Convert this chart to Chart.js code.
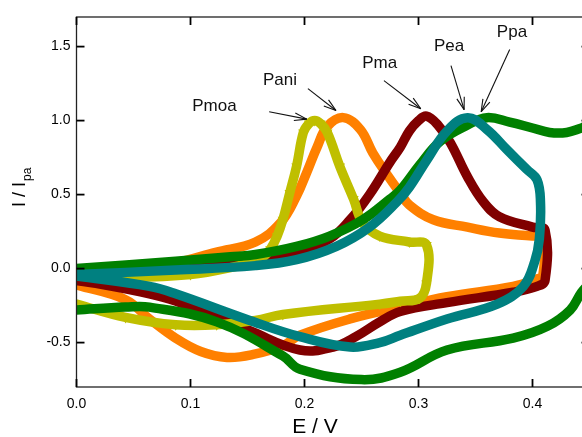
<!DOCTYPE html>
<html>
<head>
<meta charset="utf-8">
<script src="https://cdn.jsdelivr.net/npm/chart.js@4.4.1/dist/chart.umd.min.js"></script>
<style>
  html, body { margin: 0; padding: 0; background: #fff; overflow: hidden; }
  #wrap { width: 582px; height: 437px; overflow: hidden; }
</style>
</head>
<body>
<div id="wrap"><canvas id="cv" width="600" height="437"></canvas></div>
<script>
// axis ticks
const xTicks = [0.0, 0.1, 0.2, 0.3, 0.4];
const yTicks = [-0.5, 0.0, 0.5, 1.0, 1.5];

// Pmoa (forward scan, then back)
const pmoaE = [0, 0.035, 0.1, 0.15, 0.157, 0.164, 0.17, 0.176, 0.181, 0.187, 0.193, 0.199, 0.204, 0.209, 0.214, 0.22, 0.231, 0.243, 0.251, 0.266, 0.292, 0.307, 0.307, 0.301, 0.284, 0.266, 0.181, 0.157, 0.123, 0.087, 0.043, 0];
const pmoaI = [-0.05, -0.06, -0.04, 0.03, 0.04, 0.08, 0.13, 0.22, 0.33, 0.51, 0.69, 0.92, 0.98, 1.0, 0.98, 0.92, 0.69, 0.47, 0.31, 0.22, 0.18, 0.16, -0.1, -0.2, -0.22, -0.24, -0.31, -0.35, -0.38, -0.38, -0.33, -0.24];

// Pani
const paniE = [0, 0.043, 0.087, 0.122, 0.157, 0.179, 0.193, 0.202, 0.211, 0.22, 0.234, 0.249, 0.26, 0.272, 0.284, 0.292, 0.313, 0.343, 0.371, 0.4, 0.409, 0.409, 0.404, 0.383, 0.325, 0.284, 0.24, 0.196, 0.181, 0.155, 0.132, 0.109, 0.087, 0.064, 0.043, 0];
const paniI = [-0.06, -0.01, 0.04, 0.11, 0.18, 0.31, 0.49, 0.65, 0.82, 0.96, 1.02, 0.94, 0.78, 0.64, 0.51, 0.43, 0.33, 0.28, 0.24, 0.22, 0.21, -0.05, -0.07, -0.12, -0.19, -0.26, -0.34, -0.45, -0.52, -0.58, -0.6, -0.56, -0.47, -0.34, -0.21, -0.11];

// Pma
const pmaE = [0, 0.087, 0.164, 0.193, 0.222, 0.24, 0.257, 0.275, 0.284, 0.292, 0.3, 0.307, 0.317, 0.328, 0.343, 0.357, 0.371, 0.4, 0.411, 0.411, 0.404, 0.383, 0.325, 0.284, 0.266, 0.245, 0.225, 0.196, 0.152, 0.087, 0.064, 0.017, 0];
const pmaI = [-0.06, 0.0, 0.06, 0.11, 0.2, 0.33, 0.5, 0.72, 0.82, 0.93, 1.0, 1.03, 0.97, 0.85, 0.62, 0.45, 0.35, 0.28, 0.26, -0.08, -0.12, -0.16, -0.23, -0.29, -0.36, -0.46, -0.53, -0.55, -0.42, -0.22, -0.17, -0.1, -0.08];

// Pea
const peaE = [0, 0.087, 0.157, 0.193, 0.228, 0.257, 0.281, 0.292, 0.307, 0.325, 0.343, 0.36, 0.378, 0.395, 0.404, 0.407, 0.406, 0.402, 0.392, 0.369, 0.325, 0.284, 0.266, 0.24, 0.196, 0.152, 0.087, 0.064, 0];
const peaI = [-0.04, -0.01, 0.02, 0.06, 0.15, 0.28, 0.45, 0.55, 0.73, 0.93, 1.02, 0.94, 0.8, 0.67, 0.6, 0.45, 0.2, 0.05, -0.12, -0.24, -0.34, -0.45, -0.5, -0.53, -0.46, -0.35, -0.17, -0.12, -0.05];

// Ppa
const ppaE = [0, 0.087, 0.135, 0.157, 0.193, 0.222, 0.251, 0.275, 0.284, 0.301, 0.319, 0.343, 0.36, 0.38, 0.4, 0.415, 0.43, 0.443, 0.455, 0.462, 0.462, 0.455, 0.443, 0.433, 0.413, 0.383, 0.325, 0.284, 0.25, 0.196, 0.181, 0.123, 0.064, 0.043, 0];
const ppaI = [0.0, 0.05, 0.08, 0.095, 0.15, 0.22, 0.33, 0.47, 0.53, 0.7, 0.86, 0.97, 1.02, 0.99, 0.95, 0.92, 0.92, 0.95, 0.98, 0.9, 0.1, -0.05, -0.16, -0.28, -0.39, -0.47, -0.55, -0.7, -0.75, -0.68, -0.59, -0.36, -0.26, -0.26, -0.28];

// peak labels with arrows (data units)
const peakNames = ['Pmoa', 'Pani', 'Pma', 'Pea', 'Ppa'];
const peakTextE = [0.121, 0.1785, 0.266, 0.3268, 0.382];
const peakTextI = [1.095, 1.27, 1.39, 1.5, 1.595];
const arrowFromE = [0.169, 0.203, 0.2697, 0.3285, 0.380];
const arrowFromI = [1.06, 1.216, 1.27, 1.372, 1.48];
const arrowToE = [0.202, 0.2276, 0.302, 0.340, 0.355];
const arrowToI = [1.01, 1.068, 1.08, 1.074, 1.06];

const FONT = '"Liberation Sans", Arial, Helvetica, sans-serif';

function toPoints(es, is) {
    return es.map((e, i) => ({ x: e, y: is[i] }));
}

function curve(data, color, extra) {
    return Object.assign({
        data: data,
        showLine: true,
        borderColor: color,
        backgroundColor: color,
        borderWidth: 9.5,
        borderJoinStyle: 'round',
        borderCapStyle: 'round',
        pointRadius: 0,
        tension: 0.4,
        fill: false
    }, extra || {});
}

function line(ctx, x1, y1, x2, y2) {
    ctx.beginPath();
    ctx.moveTo(x1, y1);
    ctx.lineTo(x2, y2);
    ctx.stroke();
}

const framePlugin = {
    id: 'frame',
    afterDraw(chart) {
        const ctx = chart.ctx;
        const a = chart.chartArea;
        const x = chart.scales.x;
        const y = chart.scales.y;
        ctx.save();

        // box
        ctx.strokeStyle = '#222';
        ctx.lineWidth = 1.3;
        ctx.strokeRect(a.left, a.top, a.right - a.left, a.bottom - a.top);

        // inward ticks on all four sides
        ctx.strokeStyle = '#000';
        ctx.lineWidth = 1.8;
        xTicks.forEach(v => {
            const px = x.getPixelForValue(v);
            line(ctx, px, a.bottom, px, a.bottom - 8);
            line(ctx, px, a.top, px, a.top + 8);
        });
        yTicks.forEach(v => {
            const py = y.getPixelForValue(v);
            line(ctx, a.left, py, a.left + 8, py);
            line(ctx, a.right, py, a.right - 8, py);
        });

        // peak labels and arrows
        ctx.fillStyle = '#111';
        ctx.font = '17px ' + FONT;
        ctx.textAlign = 'center';
        ctx.textBaseline = 'middle';
        ctx.lineWidth = 1.1;
        ctx.strokeStyle = '#111';
        peakNames.forEach((name, i) => {
            ctx.fillText(name, x.getPixelForValue(peakTextE[i]), y.getPixelForValue(peakTextI[i]));
            const x1 = x.getPixelForValue(arrowFromE[i]), y1 = y.getPixelForValue(arrowFromI[i]);
            const x2 = x.getPixelForValue(arrowToE[i]), y2 = y.getPixelForValue(arrowToI[i]);
            line(ctx, x1, y1, x2, y2);
            const ang = Math.atan2(y2 - y1, x2 - x1);
            [0.3, -0.3].forEach(d => {
                line(ctx, x2, y2, x2 - 13 * Math.cos(ang + d), y2 - 13 * Math.sin(ang + d));
            });
        });

        // axis titles
        ctx.fillStyle = '#000';
        ctx.font = '21px ' + FONT;
        ctx.textAlign = 'center';
        ctx.textBaseline = 'alphabetic';
        ctx.fillText('E / V', 315, 433);

        ctx.translate(25, 207);
        ctx.rotate(-Math.PI / 2);
        ctx.textAlign = 'left';
        ctx.font = '18px ' + FONT;
        ctx.fillText('I / I', 0, 0);
        const w = ctx.measureText('I / I').width;
        ctx.font = '12px ' + FONT;
        ctx.fillText('pa', w + 1, 6);
        ctx.restore();
    }
};

new Chart(document.getElementById('cv'), {
    type: 'scatter',
    data: {
        datasets: [
            curve(toPoints(peaE, peaI), '#008080'),
            curve(toPoints(ppaE, ppaI), '#008000'),
            curve(toPoints(pmoaE, pmoaI), '#bfbf00', {
                pointRadius: 6,
                pointStyle: 'triangle',
                rotation: 180,
                pointBorderWidth: 0
            }),
            curve(toPoints(pmaE, pmaI), '#800000'),
            curve(toPoints(paniE, paniI), '#ff8000')
        ]
    },
    options: {
        responsive: false,
        animation: false,
        events: [],
        layout: { padding: { left: 0, top: 17, right: 10.5, bottom: 0 } },
        plugins: {
            legend: { display: false },
            tooltip: { enabled: false }
        },
        scales: {
            x: {
                type: 'linear',
                min: 0,
                max: 0.45,
                grid: { display: false, drawTicks: false },
                border: { display: false },
                afterBuildTicks: s => { s.ticks = xTicks.map(v => ({ value: v })); },
                afterFit: s => { s.height = 50; },
                ticks: {
                    padding: 9,
                    color: '#000',
                    font: { family: FONT, size: 14 },
                    callback: v => v.toFixed(1)
                }
            },
            y: {
                type: 'linear',
                min: -0.8,
                max: 1.7,
                grid: { display: false, drawTicks: false },
                border: { display: false },
                afterBuildTicks: s => { s.ticks = yTicks.map(v => ({ value: v })); },
                afterFit: s => { s.width = 76.5; },
                ticks: {
                    padding: 6,
                    color: '#000',
                    font: { family: FONT, size: 14 },
                    callback: v => v.toFixed(1)
                }
            }
        }
    },
    plugins: [framePlugin]
});
</script>
</body>
</html>
